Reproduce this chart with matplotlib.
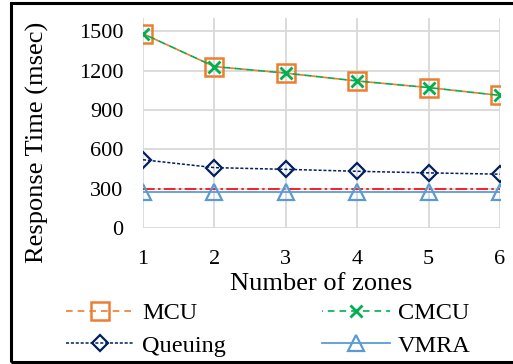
import matplotlib.pyplot as plt
from matplotlib.patches import Rectangle

zones = [1, 2, 3, 4, 5, 6]
mcu = [1480, 1230, 1180, 1120, 1070, 1010]
cmcu = [1480, 1230, 1180, 1120, 1070, 1010]
queuing = [520, 460, 447, 432, 420, 410]
vmra = [272, 272, 272, 272, 272, 272]
baseline = [300, 300, 300, 300, 300, 300]
yticks = [0, 300, 600, 900, 1200, 1500]

plt.rcParams['font.family'] = ['Liberation Serif', 'DejaVu Serif']

fig = plt.figure(figsize=(5.13, 3.64), dpi=100)
ax = fig.add_axes([143 / 513, 1 - 228 / 364, 357 / 513, 210 / 364])

ax.plot(zones, baseline, color='#FF0000', linestyle=(0, (7, 2, 1.5, 2)), linewidth=1.2)
ax.plot(zones, vmra, color='#5B9BD5', linewidth=1.3, marker='^', markersize=11,
        markerfacecolor='none', markeredgewidth=1.6, label='VMRA')
ax.plot(zones, queuing, color='#002060', linestyle=(0, (2, 1.2)), linewidth=1.1, marker='D',
        markersize=8, markerfacecolor='none', markeredgewidth=1.6, label='Queuing')
ax.plot(zones, mcu, color='#ED7D31', linestyle=(0, (4, 3)), linewidth=1.2, marker='s',
        markersize=13, markerfacecolor='none', markeredgewidth=1.8, label='MCU')
ax.plot(zones, cmcu, color='#00B050', linestyle=(3.5, (4, 3)), linewidth=1.2, marker='x',
        markersize=9, markeredgewidth=2, label='CMCU')

ax.set_xlim(1, 6)
ax.set_ylim(0, 1600)
ax.set_xticks(zones)
ax.set_yticks(yticks)
ax.grid(True, color='#D9D9D9', linewidth=1.3)
ax.set_axisbelow(True)
for s in ax.spines.values():
    s.set_visible(False)
ax.tick_params(length=0, labelsize=16)
ax.tick_params(axis='y', pad=14)
ax.tick_params(axis='x', pad=16)

ax.set_xlabel('Number of zones', fontsize=19, labelpad=3)
ax.set_ylabel('Response Time (msec)', fontsize=19)
ax.yaxis.set_label_coords(-0.262, 0.41)

h, l = ax.get_legend_handles_labels()
order = [2, 1, 3, 0]
fig.legend([h[i] for i in order], [l[i] for i in order], ncol=2, loc='upper left',
           bbox_to_anchor=(66 / 513, 1 - 302 / 364), frameon=False, fontsize=17.5,
           handlelength=2.8, handletextpad=0.33, columnspacing=3.95, labelspacing=0.45,
           borderpad=0, borderaxespad=0)

fig.patches.append(Rectangle((11 / 513, 2 / 364), 1.1, 359 / 364, transform=fig.transFigure,
                             fill=False, edgecolor='black', linewidth=2.2))

fig.savefig('out.png', dpi=100)
